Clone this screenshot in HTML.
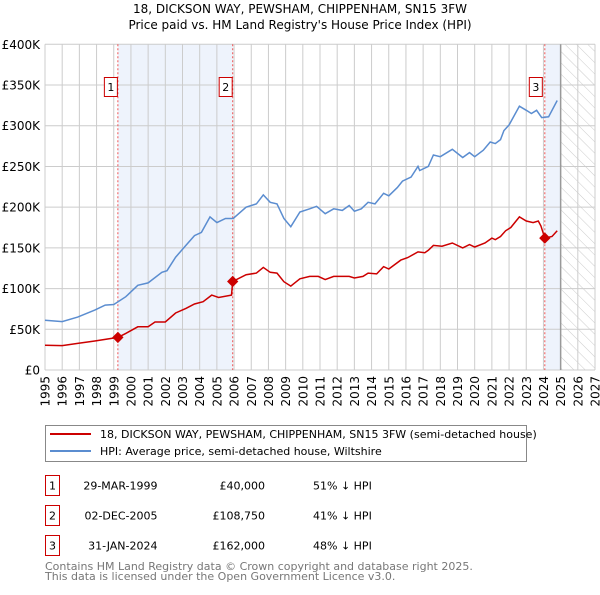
<!DOCTYPE html>
<html><head><meta charset="utf-8"><style>
body{margin:0;background:#fff;font-family:"Liberation Sans","DejaVu Sans",sans-serif;}
svg text{font-family:"DejaVu Sans","Liberation Sans",sans-serif;}
</style></head><body>
<svg width="600" height="590" xmlns="http://www.w3.org/2000/svg" id="chart">
<defs>
<pattern id="hatch" width="8" height="8" patternUnits="userSpaceOnUse" patternTransform="rotate(-45)">
<rect width="8" height="8" fill="#fff"/><line x1="0" y1="0" x2="0" y2="8" stroke="#ccc" stroke-width="1"/>
</pattern>
</defs>
<text x="300" y="13" text-anchor="middle" font-size="12" fill="#000">18, DICKSON WAY, PEWSHAM, CHIPPENHAM, SN15 3FW</text>
<text x="300" y="29" text-anchor="middle" font-size="12" fill="#000">Price paid vs. HM Land Registry's House Price Index (HPI)</text>
<g id="plot"></g>
<g>
<rect x="45.5" y="425.5" width="481" height="36" fill="#fff" stroke="#888"/>
<line x1="50" y1="434" x2="91" y2="434" stroke="#cc0000" stroke-width="2"/>
<text x="100" y="438" font-size="11">18, DICKSON WAY, PEWSHAM, CHIPPENHAM, SN15 3FW (semi-detached house)</text>
<line x1="50" y1="451" x2="91" y2="451" stroke="#5b8dd0" stroke-width="2"/>
<text x="100" y="455" font-size="11">HPI: Average price, semi-detached house, Wiltshire</text>
</g>
<g id="table" font-size="11"></g>
<text x="45" y="570" font-size="11" fill="#777">Contains HM Land Registry data © Crown copyright and database right 2025.</text>
<text x="45" y="580" font-size="11" fill="#777">This data is licensed under the Open Government Licence v3.0.</text>
</svg>
<script>
const hpiYears=[1995,1996,1996.9,1997.9,1998.5,1999,1999.7,2000.4,2001,2001.8,2002.1,2002.6,2003.2,2003.7,2004.1,2004.6,2005,2005.5,2005.95,2006.7,2007.3,2007.7,2008.1,2008.5,2008.9,2009.3,2009.83,2010.4,2010.8,2011.3,2011.8,2012.3,2012.7,2013,2013.4,2013.8,2014.2,2014.7,2015,2015.5,2015.8,2016.3,2016.7,2016.8,2017.3,2017.6,2018,2018.7,2019.3,2019.7,2020,2020.5,2020.9,2021.2,2021.5,2021.7,2022,2022.6,2023,2023.3,2023.6,2023.9,2024.3,2024.8];
const hpiValues=[61,59.5,65,73.6,79.7,80.5,90,104,107,120,122,138.5,153,165,169,188,181,186,186,200,204,215,206,204,186,176,194,198,201,192,198,196,202,195,198,206,204,217,214,224,232,237,250,245,250,264,262,271,261,267,262,270,280,278,283,294,301,324,319,315,319,310,311,331];
const ppYears=[1995,1996,1996.9,1997.9,1999.24,1999.7,2000.4,2001,2001.4,2002,2002.6,2003.2,2003.7,2004.2,2004.7,2005.1,2005.85,2005.92,2006.7,2007.3,2007.7,2008.1,2008.5,2008.9,2009.3,2009.83,2010.4,2010.9,2011.3,2011.8,2012.7,2013,2013.5,2013.8,2014.3,2014.7,2015,2015.7,2016.1,2016.7,2017.1,2017.3,2017.6,2018.1,2018.7,2019.3,2019.7,2020,2020.6,2021,2021.2,2021.5,2021.8,2022.1,2022.6,2023,2023.4,2023.7,2023.85,2024.08,2024.5,2024.8];
const ppValues=[30.5,30,32.7,35.6,40,45,53,53,59,59,70,75.6,81,83.9,92,89,92,108.75,117,119,126,120,119,108.4,103,112,115,115,111,115,115,113,115,119,118,127,124,135,138,145,144,147,153,152,156,150,154,151,156,162,160,164,171,175,188,183,181,183,177,162,164,171];
const saleYears=[1999.24,2005.92,2024.08];
const saleValues=[40,108.75,162];
const saleLabels=["1","2","3"];
const saleDates=["29-MAR-1999","02-DEC-2005","31-JAN-2024"];
const salePrices=["£40,000","£108,750","£162,000"];
const saleDiffs=["51% ↓ HPI","41% ↓ HPI","48% ↓ HPI"];
const yTicks=[0,50,100,150,200,250,300,350,400];
const yTickLabels=["£0","£50K","£100K","£150K","£200K","£250K","£300K","£350K","£400K"];
const xTicks=[1995,1996,1997,1998,1999,2000,2001,2002,2003,2004,2005,2006,2007,2008,2009,2010,2011,2012,2013,2014,2015,2016,2017,2018,2019,2020,2021,2022,2023,2024,2025,2026,2027];

const X0=45,X1=595,Y0=370,Y1=44.3;
const xs=y=>X0+(y-1995)/(2027-1995)*(X1-X0);
const ys=v=>Y0-v/400*(Y0-Y1);
const NS="http://www.w3.org/2000/svg";
const plot=document.getElementById('plot');
function mk(tag,attrs,parent){const e=document.createElementNS(NS,tag);for(const k in attrs)e.setAttribute(k,attrs[k]);(parent||plot).appendChild(e);return e;}

let r=mk('rect',{x:xs(saleYears[0]),y:Y1,width:xs(saleYears[1])-xs(saleYears[0]),height:Y0-Y1,fill:'#eef3fc'});


r=mk('rect',{x:xs(saleYears[2]),y:Y1,width:xs(2025)-xs(saleYears[2]),height:Y0-Y1,fill:'#eef3fc'});


r=mk('rect',{x:xs(2025),y:Y1,width:X1-xs(2025),height:Y0-Y1,fill:'url(#hatch)'});



xTicks.forEach(t=>{const l=mk('line',{x1:xs(t),x2:xs(t),y1:Y1,y2:Y0,stroke:'#ccc','stroke-width':1});


const tx=mk('text',{x:0,y:0,'font-size':12,'text-anchor':'end',transform:`translate(${xs(t)+4.5},376) rotate(-90)`});
tx.textContent=t;

});
yTicks.forEach((t,i)=>{const l=mk('line',{x1:X0,x2:X1,y1:ys(t),y2:ys(t),stroke:'#ccc','stroke-width':1});


const tx=mk('text',{x:40,y:ys(t)+4.5,'font-size':12,'text-anchor':'end'});
tx.textContent=yTickLabels[i];

});
r=mk('line',{x1:xs(2025),x2:xs(2025),y1:Y1,y2:Y0,stroke:'#999','stroke-width':1.5});



saleYears.forEach((s,i)=>{const l=mk('line',{x1:xs(s),x2:xs(s),y1:Y1,y2:Y0,stroke:'#e55','stroke-width':1,'stroke-dasharray':'2,2'});

});

function pts(a,b){return a.map((y,i)=>xs(y).toFixed(1)+','+ys(b[i]).toFixed(1)).join(' ');}
let p=mk('polyline',{points:pts(hpiYears,hpiValues),fill:'none',stroke:'#5b8dd0','stroke-width':1.5});


p=mk('polyline',{points:pts(ppYears,ppValues),fill:'none',stroke:'#cc0000','stroke-width':1.5});



saleYears.forEach((s,i)=>{const cx=xs(s),cy=ys(saleValues[i]);
const d=mk('rect',{x:cx-4,y:cy-4,width:8,height:8,fill:'#cc0000',transform:`rotate(45 ${cx} ${cy})`});


const b=mk('rect',{x:cx-13.5+(i==2?-2:0),y:77.5,width:13,height:19,fill:'#fff',stroke:'#c00'});


const t=mk('text',{x:cx-7+(i==2?-2:0),y:91,'font-size':11,'text-anchor':'middle'});
t.textContent=saleLabels[i];

});

const tbl=document.getElementById('table');
const rowsY=[485.5,515.5,545.5];
saleLabels.forEach((lab,i)=>{const y=rowsY[i];
const b=mk('rect',{x:45.5,y:y-10,width:14,height:20,fill:'#fff',stroke:'#c00'},tbl);


const vals=[[lab,52.5,'middle'],[saleDates[i],157.5,'end'],[salePrices[i],265,'end'],[saleDiffs[i],313,'start']];
const names=['table-row-number','table-sale-date','table-sale-price','table-hpi-diff'];
vals.forEach((v,j)=>{const t=mk('text',{x:v[1],y:y+4,'text-anchor':v[2]},tbl);
t.textContent=v[0];

});});
</script>
</body></html>
